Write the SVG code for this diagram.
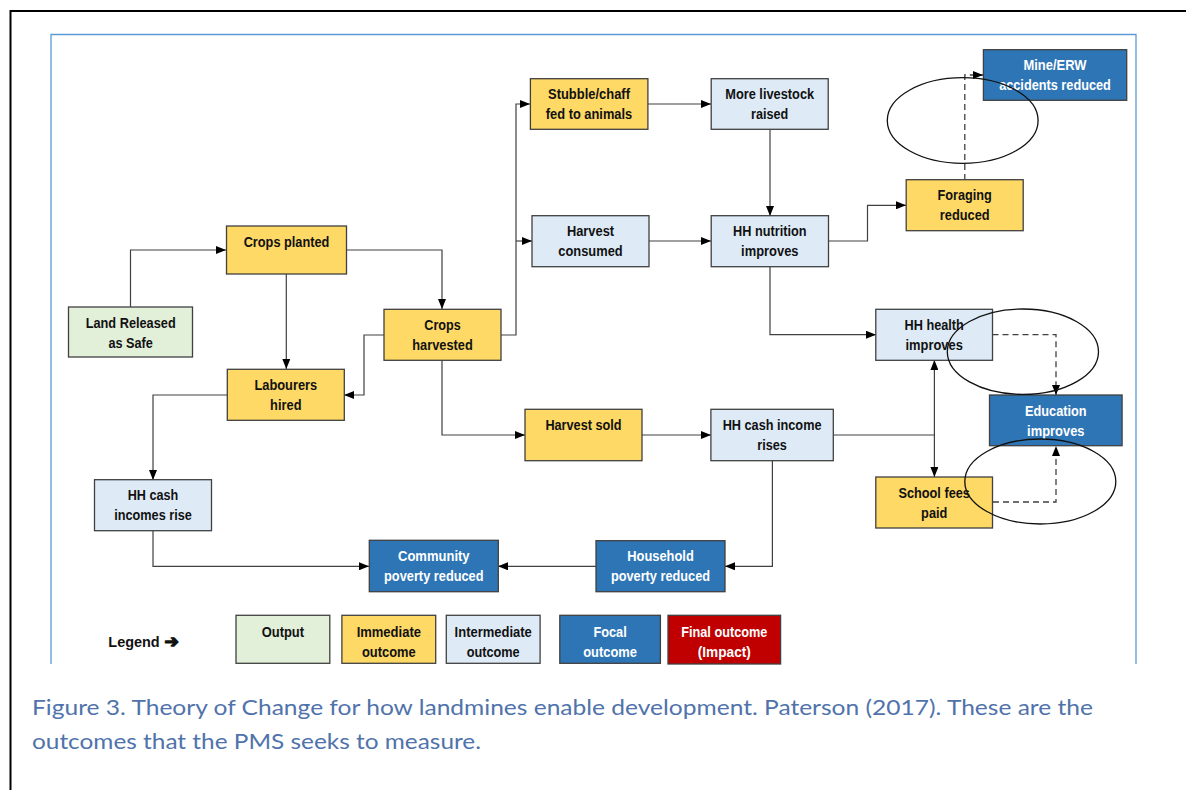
<svg xmlns="http://www.w3.org/2000/svg" width="1186" height="790" viewBox="0 0 1186 790">
<style>
.box{stroke:#404040;stroke-width:1.3}
.out{fill:#e2efd9}
.imm{fill:#ffd966}
.int{fill:#deebf7}
.foc{fill:#2e75b6}
.fin{fill:#c00000}
.t{font-family:"Liberation Sans",Arial,sans-serif;font-weight:bold;font-size:15px;text-anchor:middle;fill:#111}
.lt{font-family:"Liberation Sans",Arial,sans-serif;font-weight:bold;font-size:14px;text-anchor:middle;fill:#111}
.w{fill:#fff}
.c{fill:none;stroke:#404040;stroke-width:1.2}
.d{fill:none;stroke:#404040;stroke-width:1.3;stroke-dasharray:6 4}
.e{fill:none;stroke:#111;stroke-width:1.3}
.cap{font-family:Lato,"Liberation Sans",sans-serif;font-size:20.5px;font-weight:400;fill:#5073ab}
</style>
<defs>
<marker id="a" markerUnits="userSpaceOnUse" markerWidth="10" markerHeight="8" refX="10" refY="4" orient="auto-start-reverse" viewBox="0 0 10 8">
<path d="M0,0 L10,4 L0,8 z" fill="#000"/>
</marker>
</defs>
<rect width="1186" height="790" fill="#fff"/>
<path d="M10.5,790 V11 H1186" fill="none" stroke="#000" stroke-width="2"/>
<path d="M51,664 V34.5 H1136 V664" fill="none" stroke="#5b9bd5" stroke-width="1.3"/>

<g id="connectors">
<path class="c" d="M130.5,307 V250 H226" marker-end="url(#a)"/>
<path class="c" d="M346,250 H442 V309" marker-end="url(#a)"/>
<path class="c" d="M286.3,274 V369" marker-end="url(#a)"/>
<path class="c" d="M384,335 H364 V395 H344" marker-end="url(#a)"/>
<path class="c" d="M501,335 H516 V104 H530" marker-end="url(#a)"/>
<path class="c" d="M516,241 H532" marker-end="url(#a)"/>
<path class="c" d="M442,360 V435 H525" marker-end="url(#a)"/>
<path class="c" d="M227,395 H153 V480" marker-end="url(#a)"/>
<path class="c" d="M153,531 V566.3 H369" marker-end="url(#a)"/>
<path class="c" d="M648,104 H711" marker-end="url(#a)"/>
<path class="c" d="M649,241 H711" marker-end="url(#a)"/>
<path class="c" d="M770,129 V216" marker-end="url(#a)"/>
<path class="c" d="M828.5,241 H867.5 V205.3 H906" marker-end="url(#a)"/>
<path class="c" d="M770,267 V334.7 H876" marker-end="url(#a)"/>
<path class="c" d="M642,435 H711" marker-end="url(#a)"/>
<path class="c" d="M833,435 H934.4"/>
<path class="c" d="M934.4,360 V477" marker-start="url(#a)" marker-end="url(#a)"/>
<path class="c" d="M772.4,460.7 V566.3 H725" marker-end="url(#a)"/>
<path class="c" d="M596,566.3 H498" marker-end="url(#a)"/>
<path class="d" d="M964.8,180 V75 H983" marker-end="url(#a)"/>
<path class="d" d="M992.5,334.7 H1056 V395" marker-end="url(#a)"/>
<path class="d" d="M993,502 H1056 V446" marker-end="url(#a)"/>
</g>

<g id="land"><rect class="box out" x="68.5" y="307" width="124" height="50"/><text class="t" x="130.7" y="327.7" textLength="90" lengthAdjust="spacingAndGlyphs">Land Released</text><text class="t" x="130.7" y="347.7" textLength="44.4" lengthAdjust="spacingAndGlyphs">as Safe</text></g>
<g id="crops-planted"><rect class="box imm" x="226.5" y="226" width="120" height="48"/><text class="t" x="286.5" y="247" textLength="85.7" lengthAdjust="spacingAndGlyphs">Crops planted</text></g>
<g id="crops-harvested"><rect class="box imm" x="384" y="309.3" width="117" height="51"/><text class="t" x="442.5" y="330" textLength="36.4" lengthAdjust="spacingAndGlyphs">Crops</text><text class="t" x="442.5" y="350" textLength="60.5" lengthAdjust="spacingAndGlyphs">harvested</text></g>
<g id="labourers"><rect class="box imm" x="227.3" y="369.3" width="117" height="51"/><text class="t" x="285.8" y="390" textLength="62.8" lengthAdjust="spacingAndGlyphs">Labourers</text><text class="t" x="285.8" y="410" textLength="31.4" lengthAdjust="spacingAndGlyphs">hired</text></g>
<g id="hh-cash-incomes"><rect class="box int" x="94.5" y="479.7" width="117" height="51"/><text class="t" x="153" y="500.4" textLength="50.5" lengthAdjust="spacingAndGlyphs">HH cash</text><text class="t" x="153" y="520.4" textLength="77.7" lengthAdjust="spacingAndGlyphs">incomes rise</text></g>
<g id="community"><rect class="box foc" x="369.3" y="540.3" width="129" height="51.4"/><text class="t w" x="433.8" y="561" textLength="71.6" lengthAdjust="spacingAndGlyphs">Community</text><text class="t w" x="433.8" y="581" textLength="99.5" lengthAdjust="spacingAndGlyphs">poverty reduced</text></g>
<g id="stubble"><rect class="box imm" x="530.4" y="78.7" width="117.5" height="50.6"/><text class="t" x="589" y="99.4" textLength="82" lengthAdjust="spacingAndGlyphs">Stubble/chaff</text><text class="t" x="589" y="119.4" textLength="86.4" lengthAdjust="spacingAndGlyphs">fed to animals</text></g>
<g id="harvest-consumed"><rect class="box int" x="532" y="215.7" width="117" height="51"/><text class="t" x="590.5" y="236.4" textLength="47.2" lengthAdjust="spacingAndGlyphs">Harvest</text><text class="t" x="590.5" y="256.4" textLength="64.3" lengthAdjust="spacingAndGlyphs">consumed</text></g>
<g id="harvest-sold"><rect class="box imm" x="525" y="409.3" width="117" height="51.4"/><text class="t" x="583.5" y="430" textLength="76.2" lengthAdjust="spacingAndGlyphs">Harvest sold</text></g>
<g id="livestock"><rect class="box int" x="711.2" y="78.7" width="117" height="50.6"/><text class="t" x="769.7" y="99.4" textLength="88.9" lengthAdjust="spacingAndGlyphs">More livestock</text><text class="t" x="769.7" y="119.4" textLength="37.2" lengthAdjust="spacingAndGlyphs">raised</text></g>
<g id="nutrition"><rect class="box int" x="711.2" y="215.7" width="117.3" height="51"/><text class="t" x="769.8" y="236.4" textLength="73.4" lengthAdjust="spacingAndGlyphs">HH nutrition</text><text class="t" x="769.8" y="256.4" textLength="57.4" lengthAdjust="spacingAndGlyphs">improves</text></g>
<g id="hh-cash-income"><rect class="box int" x="710.9" y="409.3" width="122.4" height="51.4"/><text class="t" x="772.1" y="430" textLength="98.8" lengthAdjust="spacingAndGlyphs">HH cash income</text><text class="t" x="772.1" y="450" textLength="29.6" lengthAdjust="spacingAndGlyphs">rises</text></g>
<g id="household"><rect class="box foc" x="596" y="540.7" width="129" height="51"/><text class="t w" x="660.5" y="561.4" textLength="66.5" lengthAdjust="spacingAndGlyphs">Household</text><text class="t w" x="660.5" y="581.4" textLength="99.2" lengthAdjust="spacingAndGlyphs">poverty reduced</text></g>
<g id="foraging"><rect class="box imm" x="906.2" y="179.7" width="117" height="51"/><text class="t" x="964.7" y="200.4" textLength="54.4" lengthAdjust="spacingAndGlyphs">Foraging</text><text class="t" x="964.7" y="220.4" textLength="49.8" lengthAdjust="spacingAndGlyphs">reduced</text></g>
<g id="mine"><rect class="box foc" x="983.4" y="49.7" width="143.3" height="50.6"/><text class="t w" x="1055" y="70.4" textLength="63.1" lengthAdjust="spacingAndGlyphs">Mine/ERW</text><text class="t w" x="1055" y="90.4" textLength="111.7" lengthAdjust="spacingAndGlyphs">accidents reduced</text></g>
<g id="health"><rect class="box int" x="875.8" y="309.3" width="116.7" height="51"/><text class="t" x="934.2" y="330" textLength="59.3" lengthAdjust="spacingAndGlyphs">HH health</text><text class="t" x="934.2" y="350" textLength="57.4" lengthAdjust="spacingAndGlyphs">improves</text></g>
<g id="education"><rect class="box foc" x="989.5" y="395" width="132.6" height="50.7"/><text class="t w" x="1055.8" y="415.7" textLength="61.6" lengthAdjust="spacingAndGlyphs">Education</text><text class="t w" x="1055.8" y="435.7" textLength="57.4" lengthAdjust="spacingAndGlyphs">improves</text></g>
<g id="school"><rect class="box imm" x="875.8" y="477" width="116.7" height="51"/><text class="t" x="934.2" y="497.7" textLength="71.5" lengthAdjust="spacingAndGlyphs">School fees</text><text class="t" x="934.2" y="517.7" textLength="26.2" lengthAdjust="spacingAndGlyphs">paid</text></g>

<g id="highlights">
<ellipse class="e" cx="962.7" cy="120.5" rx="75.4" ry="42.8"/>
<ellipse class="e" cx="1022.9" cy="351.7" rx="75.6" ry="42.7"/>
<ellipse class="e" cx="1040.3" cy="481.5" rx="75.5" ry="42.5"/>
</g>

<g id="legend">
<text class="lt" x="134" y="646.5" textLength="51.4" lengthAdjust="spacingAndGlyphs">Legend</text>
<text x="164.5" y="647" font-family="'DejaVu Sans',sans-serif" font-weight="bold" font-size="17" fill="#111" stroke="#111" stroke-width="1.4" stroke-linejoin="round">➔</text>
<g id="lg-output"><rect class="box out" x="236" y="615.3" width="93.8" height="48"/><text class="lt" x="282.9" y="636.6" textLength="42.4" lengthAdjust="spacingAndGlyphs">Output</text></g>
<g id="lg-immediate"><rect class="box imm" x="341.9" y="615.3" width="93.8" height="48"/><text class="lt" x="388.8" y="636.6" textLength="64.3" lengthAdjust="spacingAndGlyphs">Immediate</text><text class="lt" x="388.8" y="656.6" textLength="53.7" lengthAdjust="spacingAndGlyphs">outcome</text></g>
<g id="lg-intermediate"><rect class="box int" x="446.3" y="615.3" width="93.8" height="48"/><text class="lt" x="493.2" y="636.6" textLength="77.2" lengthAdjust="spacingAndGlyphs">Intermediate</text><text class="lt" x="493.2" y="656.6" textLength="53" lengthAdjust="spacingAndGlyphs">outcome</text></g>
<g id="lg-focal"><rect class="box foc" x="559.8" y="615.3" width="100.6" height="48"/><text class="lt w" x="610.1" y="636.6" textLength="33.3" lengthAdjust="spacingAndGlyphs">Focal</text><text class="lt w" x="610.1" y="656.6" textLength="53.7" lengthAdjust="spacingAndGlyphs">outcome</text></g>
<g id="lg-final"><rect class="box fin" x="668" y="615.3" width="112.6" height="48.7"/><text class="lt w" x="724.3" y="636.6" textLength="86.2" lengthAdjust="spacingAndGlyphs">Final outcome</text><text class="lt w" x="724.3" y="656.6" textLength="53" lengthAdjust="spacingAndGlyphs">(Impact)</text></g>
</g>

<text class="cap" x="32" y="715" textLength="1061" lengthAdjust="spacingAndGlyphs">Figure 3. Theory of Change for how landmines enable development. Paterson (2017). These are the</text>
<text class="cap" x="32" y="749" textLength="449" lengthAdjust="spacingAndGlyphs">outcomes that the PMS seeks to measure.</text>
</svg>
